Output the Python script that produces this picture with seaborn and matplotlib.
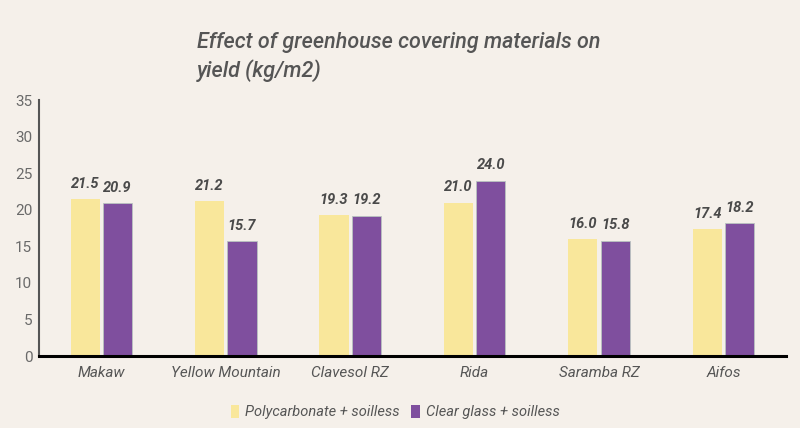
import matplotlib
matplotlib.use("Agg")
import matplotlib.pyplot as plt
import seaborn as sns
import pandas as pd

categories = ["Makaw", "Yellow Mountain", "Clavesol RZ", "Rida", "Saramba RZ", "Aifos"]
series_names = ["Polycarbonate + soilless", "Clear glass + soilless"]
polycarbonate = [21.5, 21.2, 19.3, 21.0, 16.0, 17.4]
clear_glass = [20.9, 15.7, 19.2, 24.0, 15.8, 18.2]
y_ticks = [0, 5, 10, 15, 20, 25, 30, 35]

df = pd.DataFrame({
    "variety": categories * 2,
    "series": [series_names[0]] * len(categories) + [series_names[1]] * len(categories),
    "yield": polycarbonate + clear_glass,
})

bg = "#f5f0ea"
sns.set_theme(style="white")
plt.rcParams["font.family"] = ["Roboto", "DejaVu Sans"]

fig = plt.figure(figsize=(8, 4.28), dpi=100, facecolor=bg)
ax = fig.add_axes([0.049, 0.168, 0.933, 0.598])
ax.set_facecolor(bg)

palette = {series_names[0]: "#f9e79b", series_names[1]: "#7f4f9e"}
sns.barplot(data=df, x="variety", y="yield", hue="series", palette=palette,
            width=0.52, gap=0.1, ax=ax, saturation=1, legend=True, linewidth=0)

# light edge only on purple bars, as in the reference
for patch in ax.containers[1]:
    patch.set_edgecolor("#b9c4c0")
    patch.set_linewidth(0.6)

for cont in ax.containers:
    ax.bar_label(cont, fmt="%.1f", padding=6, fontsize=10.5, fontweight="bold",
                 fontstyle="italic", color="#4a4a4a")

ax.set_ylim(0, 35)
ax.set_yticks(y_ticks)
ax.set_xlim(-0.5, len(categories) - 0.5)
ax.set_xlabel("")
ax.set_ylabel("")
ax.tick_params(axis="y", length=0, labelsize=11, labelcolor="#6a6a6a", pad=5)
ax.tick_params(axis="x", length=0, labelsize=11, labelcolor="#555555", pad=7)
for lab in ax.get_xticklabels():
    lab.set_fontstyle("italic")

for s in ["top", "right"]:
    ax.spines[s].set_visible(False)
ax.spines["left"].set_color("#555555")
ax.spines["left"].set_linewidth(1.5)
ax.spines["bottom"].set_color("#000000")
ax.spines["bottom"].set_linewidth(2.2)

handles, labels = ax.get_legend_handles_labels()
ax.get_legend().remove()
leg = fig.legend(handles, labels, loc="center", bbox_to_anchor=(0.494, 0.037), ncol=2,
                 frameon=False, fontsize=10.5, handlelength=0.6, handleheight=1.0,
                 handletextpad=0.4, columnspacing=0.8)
for t in leg.get_texts():
    t.set_fontstyle("italic")
    t.set_color("#555555")

fig.text(0.246, 0.925, "Effect of greenhouse covering materials on\nyield (kg/m2)",
         fontsize=15.5, fontstyle="italic", fontweight="medium", color="#555555",
         ha="left", va="top", linespacing=1.35)

fig.savefig("out.png", dpi=100, facecolor=bg)
